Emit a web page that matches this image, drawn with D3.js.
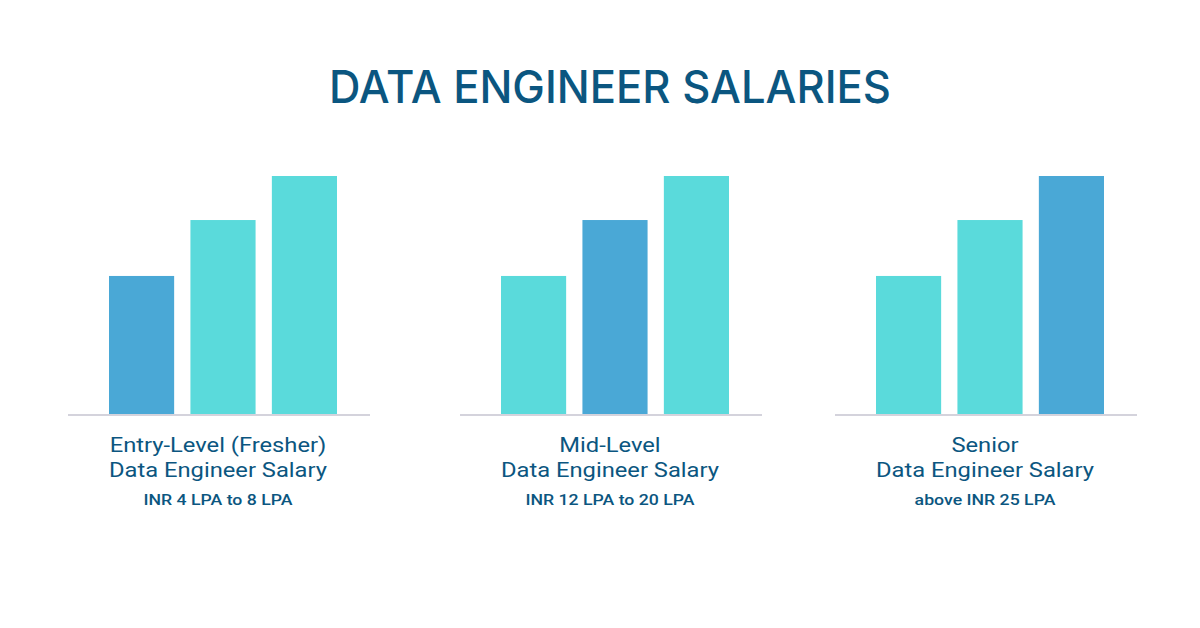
<!DOCTYPE html>
<html>
<head>
<meta charset="utf-8">
<script src="https://cdn.jsdelivr.net/npm/d3@7"></script>
<style>
  html, body { margin: 0; padding: 0; background: #ffffff; }
  svg { display: block; }
</style>
</head>
<body>
<svg id="chart" width="1200" height="628"></svg>
<script>
// ---- data ----
const chartTitle = "DATA ENGINEER SALARIES";
const groupNames = ["Entry-Level (Fresher)", "Mid-Level", "Senior"];
const subtitleLines = ["Data Engineer Salary", "Data Engineer Salary", "Data Engineer Salary"];
const rangeLabels = ["INR 4 LPA to 8 LPA", "INR 12 LPA to 20 LPA", "above INR 25 LPA"];
const barKeys = ["a", "b", "c"];
const barValues = [58, 81.5, 100];
const highlightIndex = [0, 1, 2];

// ---- styling / layout ----
const W = 1200, H = 628;
const textColor = "#0b5680";
const barColor = "#5adadb";
const hiColor = "#4aa8d6";
const baseColor = "#d4d3dc";
const titleFont = "Inter, 'Open Sans', sans-serif";
const labelFont = "Roboto, 'Open Sans', sans-serif";

const svg = d3.select("#chart");

svg.append("text")
  .attr("x", 610).attr("y", 103)
  .attr("text-anchor", "middle")
  .attr("font-family", titleFont)
  .attr("font-weight", 500)
  .attr("font-size", 45)
  .attr("fill", textColor)
  .attr("textLength", 562)
  .attr("lengthAdjust", "spacingAndGlyphs")
  .text(chartTitle);

const panelX = d3.scaleOrdinal().domain(groupNames).range([68, 460, 835]);
const panelW = 302;
const baseY = 414;

const x = d3.scaleBand().domain(barKeys).range([41, 269]).paddingInner(0.2).paddingOuter(0);
const y = d3.scaleLinear().domain([0, 100]).range([baseY, 176]);

const labelSel = [], rangeSel = [];

groupNames.forEach((g, gi) => {
  const p = svg.append("g").attr("transform", `translate(${panelX(g)},0)`);
  p.selectAll("rect").data(barKeys.map((k, i) => ({k, v: barValues[i], i})))
    .join("rect")
    .attr("x", d => x(d.k))
    .attr("width", x.bandwidth())
    .attr("y", d => y(d.v))
    .attr("height", d => y(0) - y(d.v))
    .attr("fill", d => d.i === highlightIndex[gi] ? hiColor : barColor);

  p.append("line")
    .attr("x1", 0).attr("x2", panelW)
    .attr("y1", baseY + 1).attr("y2", baseY + 1)
    .attr("stroke", baseColor).attr("stroke-width", 2);

  const cx = panelW / 2 - 1;
  labelSel.push(p.append("text")
    .attr("x", cx).attr("y", 452)
    .attr("text-anchor", "middle")
    .attr("font-family", labelFont).attr("font-weight", 400)
    .attr("font-size", 21).attr("fill", textColor)
    .text(g));
  labelSel.push(p.append("text")
    .attr("x", cx).attr("y", 477)
    .attr("text-anchor", "middle")
    .attr("font-family", labelFont).attr("font-weight", 400)
    .attr("font-size", 21).attr("fill", textColor)
    .text(subtitleLines[gi]));
  rangeSel.push(p.append("text")
    .attr("x", cx).attr("y", 505)
    .attr("text-anchor", "middle")
    .attr("font-family", labelFont).attr("font-weight", 500)
    .attr("font-size", 15).attr("fill", textColor)
    .text(rangeLabels[gi]));
});

// widen glyphs uniformly to approximate the wide geometric typeface of the original
function stretch(sel, ratio) {
  sel.forEach(s => {
    const len = s.node().getComputedTextLength();
    s.attr("textLength", len * ratio).attr("lengthAdjust", "spacingAndGlyphs");
  });
}
const refLabel = labelSel[1].node().getComputedTextLength();
stretch(labelSel, 218 / refLabel);
const refRange = rangeSel[0].node().getComputedTextLength();
stretch(rangeSel, 149 / refRange);
</script>
</body>
</html>
